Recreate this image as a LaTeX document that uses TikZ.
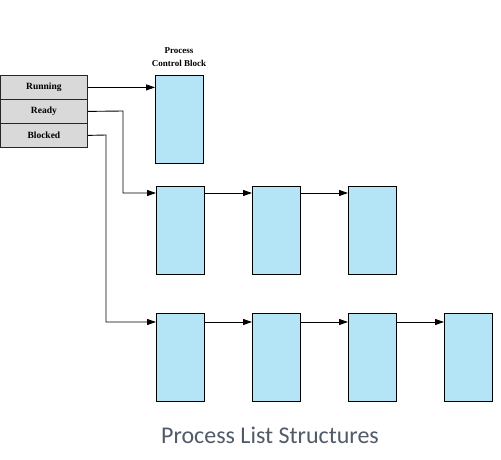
\documentclass[tikz,border=0pt]{standalone}
\usepackage{fontspec}
\setmainfont{Liberation Serif}
\newfontfamily\capfont{Carlito}
\usetikzlibrary{arrows.meta}
\definecolor{pcbblue}{HTML}{B3E5F7}
\definecolor{stategray}{HTML}{D9D9D9}
\definecolor{captioncol}{HTML}{505A68}
\begin{document}
\begin{tikzpicture}[x=1pt,y=-1pt,
  pcb/.style={draw=black,fill=pcbblue,line width=0.9pt,minimum width=48pt,minimum height=88pt,inner sep=0pt,anchor=north west},
  statebox/.style={draw=black!85,fill=stategray,line width=0.8pt,minimum width=87pt,minimum height=24pt,inner sep=0pt,anchor=north west,font=\bfseries\fontsize{9.5}{10}\selectfont},
  link/.style={draw=black,line width=0.9pt,-{Triangle[length=9pt,width=6pt]}}]
\useasboundingbox (0,0) rectangle (501,460);
% state list heads
\node[statebox] (run) at (0,75) {Running};
\node[statebox] (rdy) at (0,99) {Ready};
\node[statebox] (blk) at (0,123) {Blocked};
% PCB label
\node[font=\bfseries\fontsize{9}{13}\selectfont,align=center] (lbl) at (179,57) {Process\\Control Block};
% running
\node[pcb] (r1) at (155,75) {};
% ready row
\node[pcb] (a1) at (156,186) {};
\node[pcb] (a2) at (252,186) {};
\node[pcb] (a3) at (348,186) {};
% blocked row
\node[pcb] (b1) at (156,313) {};
\node[pcb] (b2) at (252,313) {};
\node[pcb] (b3) at (348,313) {};
\node[pcb] (b4) at (444,313) {};
% connectors
\coordinate (rdyturn) at (123,111);
\coordinate (blkturn) at (106,135);
\draw[link] (run.east) -- (r1.west |- run.east);
\draw[link] (rdy.east) -- (rdyturn) |- ([yshift=-7pt]a1.north west);
\draw[link] (blk.east) -- (blkturn) |- ([yshift=-9pt]b1.north west);
\draw[link] ([yshift=-7pt]a1.north east) -- ([yshift=-7pt]a2.north west);
\draw[link] ([yshift=-7pt]a2.north east) -- ([yshift=-7pt]a3.north west);
\draw[link] ([yshift=-9pt]b1.north east) -- ([yshift=-9pt]b2.north west);
\draw[link] ([yshift=-9pt]b2.north east) -- ([yshift=-9pt]b3.north west);
\draw[link] ([yshift=-9pt]b3.north east) -- ([yshift=-9pt]b4.north west);
% caption
\node[font=\capfont\fontsize{24}{28}\selectfont,text=captioncol] (cap) at (270,435) {Process List Structures};
\end{tikzpicture}
\end{document}
